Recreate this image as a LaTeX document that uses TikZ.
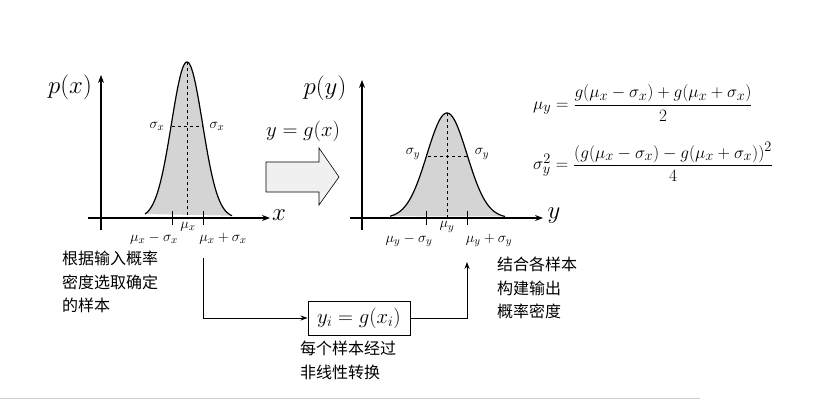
\documentclass[tikz,border=0pt]{standalone}
\usepackage{amsmath}
\usepackage{fontspec}
\newfontfamily\cjk{Noto Sans CJK SC}
\usetikzlibrary{arrows.meta,shapes.arrows}
\begin{document}
\begin{tikzpicture}[x=1pt,y=-1pt,
  ax/.style={-{Stealth[length=8pt,width=6pt]},line width=1.1pt},
  curve/.style={line width=1.2pt,fill=black!17},
  dsh/.style={dashed,line width=0.7pt},
  big/.style={font=\fontsize{25}{28}\selectfont},
  sm/.style={font=\fontsize{15.5}{18}\selectfont,inner sep=1pt},
  cn/.style={font=\cjk\fontsize{16}{23.5}\selectfont,align=left,anchor=north west,inner sep=0pt},
  conn/.style={-{Stealth[length=7pt,width=5pt]},line width=0.8pt}]
\useasboundingbox (0,0) rectangle (828,420);
% left plot
\draw[curve] plot[domain=145:232,samples=90] (\x,{218-156*exp(-((\x-187)/15.5)^2/2)});
\draw[dsh] (187,62) -- (187,218);
\draw[dsh] (172,126) -- (203,126);
\draw[ax] (101,230) -- (101,75);
\draw[ax] (88,218) -- (270,218);
\draw[line width=0.9pt] (172,211)--(172,225) (203,211)--(203,225);
\node[big] (px) at (70,87) {$p(x)$};
\node[big] (xl) at (279,215) {$x$};
\node[sm] at (157,126) {$\sigma_x$};
\node[sm] at (217,126) {$\sigma_x$};
\node[sm] at (188,227) {$\mu_x$};
\node[sm] at (154,239) {$\mu_x-\sigma_x$};
\node[sm] at (223,239) {$\mu_x+\sigma_x$};
% big arrow
\draw[line width=0.6pt,fill=black!6] (266,162) -- (319,162) -- (319,148) -- (339,177) -- (319,205) -- (319,192) -- (266,192) -- cycle;
\node[font=\fontsize{22}{25}\selectfont] at (303,131) {$y=g(x)$};
% right plot
\draw[curve] plot[domain=390:505,samples=90] (\x,{218-105*exp(-((\x-447)/20)^2/2)});
\draw[dsh] (447,113) -- (447,218);
\draw[dsh] (428,156) -- (467,156);
\draw[ax] (362,230) -- (362,80);
\draw[ax] (350,218) -- (543,218);
\draw[line width=0.9pt] (426,211)--(426,225) (467,211)--(467,225);
\node[big] (py) at (325,88) {$p(y)$};
\node[big] (yl) at (554,216) {$y$};
\node[sm] at (413,154) {$\sigma_y$};
\node[sm] at (482,154) {$\sigma_y$};
\node[sm] at (447,227) {$\mu_y$};
\node[sm] at (409,240) {$\mu_y-\sigma_y$};
\node[sm] at (489,240) {$\mu_y+\sigma_y$};
% equations
\node[anchor=west,font=\fontsize{19}{22}\selectfont,inner sep=0pt] (e1) at (533,103) {$\mu_y=\dfrac{g(\mu_x-\sigma_x)+g(\mu_x+\sigma_x)}{2}$};
\node[anchor=west,font=\fontsize{19}{22}\selectfont,inner sep=0pt] (e2) at (533,162) {$\sigma_y^2=\dfrac{(g(\mu_x-\sigma_x)-g(\mu_x+\sigma_x))^2}{4}$};
% bottom
\node[cn] (t1) at (62,251) {根据输入概率\\密度选取确定\\的样本};
\node[draw,line width=1pt,minimum width=102pt,minimum height=34pt,inner sep=0pt,font=\fontsize{20}{23}\selectfont] (box) at (359,318) {$y_i=g(x_i)$};
\node[cn] (t2) at (300,341) {每个样本经过\\非线性转换};
\node[cn] (t3) at (497,257) {结合各样本\\构建输出\\概率密度};
\coordinate (s1) at (203,258);
\coordinate (s2) at (467,262);
\draw[conn] (s1) |- (box.west);
\draw[conn] (box.east) -| (s2);
\draw[black!20,line width=0.6pt] (0,398) -- (700,398);
\end{tikzpicture}
\end{document}
